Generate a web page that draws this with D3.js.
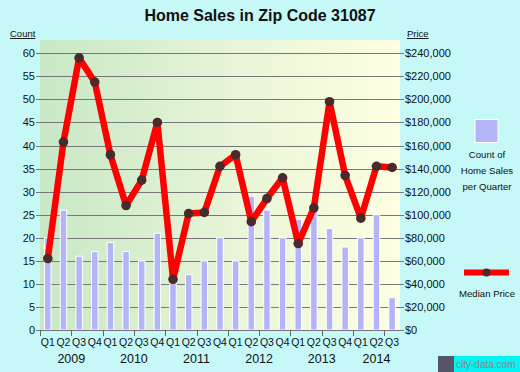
<!DOCTYPE html>
<html><head><meta charset="utf-8">
<script src="https://cdn.jsdelivr.net/npm/d3@7"></script>
<style>
html,body{margin:0;padding:0;background:#c6f8f8;}
svg{display:block;font-family:"Liberation Sans",Arial,sans-serif;}
</style></head>
<body><svg id="c" width="520" height="372"></svg>
<script>
const quarters = ["Q1","Q2","Q3","Q4","Q1","Q2","Q3","Q4","Q1","Q2","Q3","Q4","Q1","Q2","Q3","Q4","Q1","Q2","Q3","Q4","Q1","Q2","Q3"];
const years = ["2009","2010","2011","2012","2013","2014"];
const counts = [20,26,16,17,19,17,15,21,11,12,15,20,15,29,26,20,24,26,22,18,20,25,7];
const prices = [62000,163000,236000,215000,152000,108000,130000,180000,44000,101000,102000,142000,152000,94000,114000,132000,75000,106000,198000,134000,97000,142000,141000];
const countTicks = [0,5,10,15,20,25,30,35,40,45,50,55,60];
const priceTicks = [0,20000,40000,60000,80000,100000,120000,140000,160000,180000,200000,220000,240000];

const svg = d3.select("#c");
const L=40,R=400,T=40,B=330;
const idx = d3.range(quarters.length);
const step = 15.65;
const x = d3.scaleBand().domain(idx).range([L, L + step*quarters.length]);
const yC = d3.scaleLinear().domain([0,60]).range([B,53.3]);
const yP = d3.scaleLinear().domain([0,240000]).range([B,53.3]);

const defs = svg.append("defs");
const g = defs.append("linearGradient").attr("id","bg").attr("x1","0").attr("x2","1").attr("y1","0").attr("y2","0");
g.append("stop").attr("offset","0").attr("stop-color","#c8e8c6");
g.append("stop").attr("offset","0.5").attr("stop-color","#e6f4d6");
g.append("stop").attr("offset","1").attr("stop-color","#ffffe2");
svg.append("rect").attr("x",L).attr("y",T).attr("width",R-L).attr("height",B-T).attr("fill","url(#bg)");

// grid lines
svg.append("g").selectAll("line").data(countTicks).join("line")
  .attr("x1",L-4).attr("x2",R+4).attr("y1",d=>Math.round(yC(d))+0.5).attr("y2",d=>Math.round(yC(d))+0.5)
  .attr("stroke","#777").attr("stroke-width",1);

// bars
const bw = 6.5;
svg.append("g").selectAll("rect").data(counts).join("rect")
  .attr("x",(d,i)=>x(i)+x.bandwidth()/2-bw/2).attr("width",bw)
  .attr("y",d=>yC(d)).attr("height",d=>B-yC(d))
  .attr("fill","#b4b4f8").attr("stroke","#fff").attr("stroke-width",1);

// axis line
svg.append("line").attr("x1",L).attr("x2",R).attr("y1",B+0.5).attr("y2",B+0.5).attr("stroke","#777");

// left axis labels
svg.append("g").selectAll("text").data(countTicks).join("text")
  .attr("x",L-5).attr("y",d=>yC(d)+4).attr("text-anchor","end")
  .attr("font-size",11).attr("fill","#111").text(d=>d);
// right axis labels
const fmt = d3.format(",");
svg.append("g").selectAll("text").data(priceTicks).join("text")
  .attr("x",R+5).attr("y",d=>yP(d)+4).attr("text-anchor","start")
  .attr("font-size",11).attr("fill","#111").text(d=>"$"+fmt(d));

// x ticks every two quarters
const xt = d3.range(0, quarters.length+1, 2);
svg.append("g").selectAll("line").data(xt).join("line")
  .attr("x1",d=>Math.round(L+d*x.step())+0.5).attr("x2",d=>Math.round(L+d*x.step())+0.5)
  .attr("y1",B).attr("y2",B+6).attr("stroke","#666");
svg.append("g").selectAll("text").data(quarters).join("text")
  .attr("x",(d,i)=>x(i)+x.bandwidth()/2).attr("y",B+16).attr("text-anchor","middle")
  .attr("font-size",10.5).attr("fill","#111").text(d=>d);
svg.append("g").selectAll("text").data(years).join("text")
  .attr("x",(d,i)=>{const a=i*4, b=Math.min(i*4+3, quarters.length-1); return (x(a)+x(b)+x.bandwidth())/2;})
  .attr("y",B+33).attr("text-anchor","middle")
  .attr("font-size",12.5).attr("fill","#111").text(d=>d);

// line
const line = d3.line().x((d,i)=>x(i)+x.bandwidth()/2).y(d=>yP(d));
svg.append("path").datum(prices).attr("d",line).attr("fill","none")
  .attr("stroke","#ff0000").attr("stroke-width",6.5).attr("stroke-linejoin","round");
svg.append("g").selectAll("circle").data(prices).join("circle")
  .attr("cx",(d,i)=>x(i)+x.bandwidth()/2).attr("cy",d=>yP(d)).attr("r",4.8)
  .attr("fill","#4a2a2a");

// title
svg.append("text").attr("x",260).attr("y",21).attr("text-anchor","middle")
  .attr("font-size",16).attr("font-weight","bold").attr("fill","#111").text("Home Sales in Zip Code 31087");

// axis titles
svg.append("text").attr("x",10).attr("y",37).attr("font-size",9.5).attr("fill","#111")
  .attr("text-decoration","underline").text("Count");
svg.append("text").attr("x",407).attr("y",37).attr("font-size",9.5).attr("fill","#111")
  .attr("text-decoration","underline").text("Price");

// legend
svg.append("rect").attr("x",475).attr("y",119.5).attr("width",23).attr("height",23)
  .attr("fill","#b4b4f8").attr("stroke","#fff").attr("stroke-width",1);
["Count of","Home Sales","per Quarter"].forEach((t,i)=>{
  svg.append("text").attr("x",487).attr("y",158+i*16).attr("text-anchor","middle")
    .attr("font-size",9.6).attr("fill","#111").text(t);
});
svg.append("line").attr("x1",464).attr("x2",509).attr("y1",272.5).attr("y2",272.5)
  .attr("stroke","#ff0000").attr("stroke-width",6);
svg.append("circle").attr("cx",486.5).attr("cy",272.5).attr("r",4).attr("fill","#4a2a2a");
svg.append("text").attr("x",487).attr("y",297).attr("text-anchor","middle")
  .attr("font-size",9.6).attr("fill","#111").text("Median Price");

// watermark
const wm = svg.append("g");
wm.append("rect").attr("x",438).attr("y",356).attr("width",16).attr("height",16).attr("fill","#556");
wm.append("rect").attr("x",454).attr("y",356).attr("width",66).attr("height",16).attr("fill","#00f4f4");
wm.append("text").attr("x",456).attr("y",368).attr("font-size",10).attr("fill","#888").text("city-data.com");
</script></body></html>
